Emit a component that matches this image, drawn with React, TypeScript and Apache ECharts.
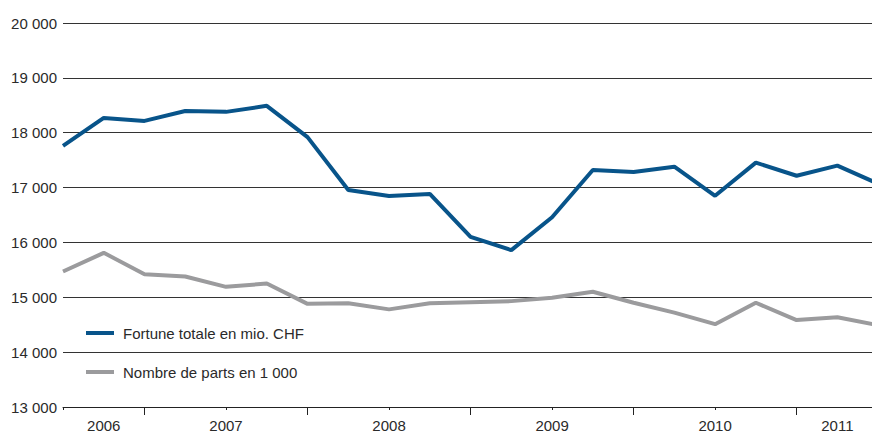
import React, { useEffect, useRef } from "react";
import * as echarts from "echarts";

// quarterly observations, index 0 = mid 2006
const fortune = [
  17760, 18270, 18215, 18395, 18380, 18490, 17920, 16955, 16845, 16885, 16100,
  15860, 16460, 17320, 17285, 17380, 16850, 17455, 17215, 17400, 17070,
];
const parts = [
  15470, 15810, 15420, 15380, 15190, 15250, 14880, 14890, 14780, 14890, 14910,
  14930, 14990, 15100, 14900, 14720, 14510, 14900, 14585, 14635, 14490,
];
const yearLabels = ["2006", "2007", "2008", "2009", "2010", "2011"];
const yearLabelPos = [1, 4, 8, 12, 16, 19];
const yearBoundaryTicks = [2, 6, 10, 14, 18];
const midYearTicks = [0, 4, 8, 12, 16];
const seriesNames = ["Fortune totale en mio. CHF", "Nombre de parts en 1 000"];

const FONT = "Liberation Sans";
const TEXT = "#2a2a2a";

export default function App() {
  const ref = useRef<HTMLDivElement>(null);
  useEffect(() => {
    if (!ref.current) return;
    const chart = echarts.init(ref.current, undefined, { renderer: "svg" });
    const xMax = 19.85;
    chart.setOption({
      animation: false,
      grid: { left: 63, right: 0, top: 23, bottom: 27, containLabel: false },
      legend: {
        orient: "vertical",
        left: 86,
        top: 324,
        padding: 0,
        icon: "rect",
        itemWidth: 28,
        itemHeight: 4,
        itemGap: 21,
        data: seriesNames,
        textStyle: {
          fontFamily: FONT,
          fontSize: 15,
          lineHeight: 18,
          color: TEXT,
          padding: [0, 0, 0, 4],
        },
      },
      xAxis: [
        {
          type: "value",
          min: 0,
          max: xMax,
          position: "bottom",
          axisLine: { show: true, lineStyle: { color: "#222", width: 1 } },
          axisTick: {
            show: true,
            customValues: yearBoundaryTicks,
            length: 8,
            lineStyle: { color: "#222", width: 1 },
          },
          axisLabel: {
            customValues: yearLabelPos,
            formatter: (v: number) => {
              const i = yearLabelPos.findIndex((p) => Math.abs(p - v) < 1e-6);
              return i >= 0 ? yearLabels[i] : "";
            },
            margin: 11,
            fontFamily: FONT,
            fontSize: 15,
            color: TEXT,
          },
          splitLine: { show: false },
        },
        {
          type: "value",
          min: 0,
          max: xMax,
          position: "bottom",
          offset: 0,
          axisLine: { show: false },
          axisTick: {
            show: true,
            customValues: midYearTicks,
            length: 3,
            lineStyle: { color: "#222", width: 1 },
          },
          axisLabel: { show: false },
          splitLine: { show: false },
        },
      ],
      yAxis: {
        type: "value",
        min: 13000,
        max: 20000,
        interval: 1000,
        axisLine: { show: false },
        axisTick: { show: false },
        axisLabel: {
          formatter: (v: number) =>
            String(v).replace(/\B(?=(\d{3})+(?!\d))/g, " "),
          margin: 6,
          fontFamily: FONT,
          fontSize: 15,
          color: TEXT,
        },
        splitLine: { show: true, lineStyle: { color: "#333", width: 1 } },
      },
      series: [
        {
          name: seriesNames[0],
          type: "line",
          data: fortune.map((v, i) => [i, v]),
          showSymbol: false,
          symbol: "none",
          color: "#08548a",
          lineStyle: { color: "#08548a", width: 4 },
        },
        {
          name: seriesNames[1],
          type: "line",
          data: parts.map((v, i) => [i, v]),
          showSymbol: false,
          symbol: "none",
          color: "#9b9b9d",
          lineStyle: { color: "#9b9b9d", width: 4 },
        },
      ],
    });
    return () => chart.dispose();
  }, []);
  return (
    <div
      ref={ref}
      style={{ position: "absolute", left: 0, top: 0, width: 872, height: 434 }}
    />
  );
}
